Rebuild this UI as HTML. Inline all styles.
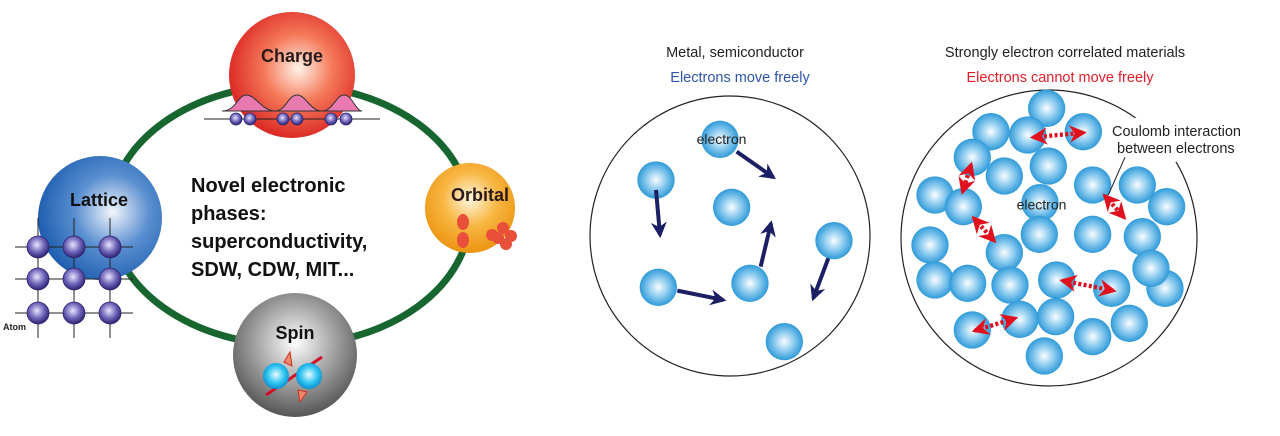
<!DOCTYPE html>
<html><head><meta charset="utf-8"><style>
html,body{margin:0;padding:0;background:#fff;width:1280px;height:436px;overflow:hidden}
svg{display:block}
</style></head><body>
<svg width="1280" height="436" viewBox="0 0 1280 436" xmlns="http://www.w3.org/2000/svg" font-family="Liberation Sans, sans-serif">
<defs>
<radialGradient id="red" cx="0.55" cy="0.45" r="0.6"><stop offset="0" stop-color="#fff4e8"/><stop offset="0.45" stop-color="#f5795a"/><stop offset="1" stop-color="#d81e1e"/></radialGradient>
<radialGradient id="blue" cx="0.6" cy="0.45" r="0.6"><stop offset="0" stop-color="#f2f6fb"/><stop offset="0.5" stop-color="#5a8fd0"/><stop offset="1" stop-color="#1f5fb0"/></radialGradient>
<radialGradient id="orange" cx="0.5" cy="0.4" r="0.6"><stop offset="0" stop-color="#fff7e0"/><stop offset="0.5" stop-color="#f8b743"/><stop offset="1" stop-color="#ec9410"/></radialGradient>
<radialGradient id="gray" cx="0.5" cy="0.4" r="0.6"><stop offset="0" stop-color="#ffffff"/><stop offset="0.5" stop-color="#a8a8a8"/><stop offset="1" stop-color="#555"/></radialGradient>
<radialGradient id="el" cx="0.5" cy="0.5" r="0.5"><stop offset="0" stop-color="#fafdff"/><stop offset="0.55" stop-color="#86c8ee"/><stop offset="1" stop-color="#2f9ad8"/></radialGradient>
<radialGradient id="atom" cx="0.45" cy="0.4" r="0.6"><stop offset="0" stop-color="#e8e4ff"/><stop offset="0.6" stop-color="#6a5fb5"/><stop offset="1" stop-color="#2e2570"/></radialGradient>
<radialGradient id="cyan" cx="0.5" cy="0.45" r="0.55"><stop offset="0" stop-color="#e8fbff"/><stop offset="0.6" stop-color="#30c4f0"/><stop offset="1" stop-color="#0a8fd0"/></radialGradient>
<marker id="nav" viewBox="0 0 10 10" refX="8" refY="5" markerWidth="4" markerHeight="4" orient="auto"><path d="M0,0 L10,5 L0,10 L3,5z" fill="#1b1f63"/></marker>
<marker id="rd" viewBox="0 0 10 10" refX="8" refY="5" markerWidth="4" markerHeight="4" orient="auto-start-reverse"><path d="M0,0 L10,5 L0,10 L3,5z" fill="#e0101e"/></marker>
</defs>

<!-- left diagram -->
<ellipse cx="290" cy="215" rx="180" ry="130" fill="none" stroke="#17652f" stroke-width="7"/>

<circle cx="292" cy="75" r="63" fill="url(#red)"/>
<text x="292" y="62" font-size="18" font-weight="bold" text-anchor="middle" fill="#2a1a1a">Charge</text>
<path d="M222,111 C236,111 238,95 246,95 C256,95 262,111 275,111 C286,111 288,95 297,95 C306,95 310,111 322,111 C333,111 336,95 344,95 C352,95 356,111 362,111 Z" fill="#e87ab0" stroke="#333" stroke-width="1"/>
<line x1="204" y1="119" x2="380" y2="119" stroke="#222" stroke-width="1"/>
<g fill="url(#atom)" stroke="#2e2570" stroke-width="0.8"><circle cx="236" cy="119" r="6"/><circle cx="250" cy="119" r="6"/><circle cx="283" cy="119" r="6"/><circle cx="297" cy="119" r="6"/><circle cx="331" cy="119" r="6"/><circle cx="346" cy="119" r="6"/></g>

<circle cx="470" cy="208" r="45" fill="url(#orange)"/>
<text x="480" y="201" font-size="18" font-weight="bold" text-anchor="middle" fill="#2a1a1a">Orbital</text>
<g fill="#e8503a"><ellipse cx="463" cy="222" rx="6" ry="8"/><ellipse cx="463" cy="240" rx="6" ry="8"/><circle cx="492" cy="235" r="6"/><circle cx="503" cy="228" r="6"/><circle cx="511" cy="236" r="6"/><circle cx="506" cy="244" r="6"/><circle cx="498" cy="238" r="6"/></g>

<circle cx="100" cy="218" r="62" fill="url(#blue)"/>
<text x="99" y="206" font-size="18" font-weight="bold" text-anchor="middle" fill="#111">Lattice</text>
<g stroke="#222" stroke-width="1">
<line x1="15" y1="247" x2="133" y2="247"/><line x1="15" y1="279" x2="133" y2="279"/><line x1="15" y1="313" x2="133" y2="313"/>
<line x1="38" y1="218" x2="38" y2="338"/><line x1="74" y1="218" x2="74" y2="338"/><line x1="110" y1="218" x2="110" y2="338"/></g>
<g fill="url(#atom)" stroke="#2e2570" stroke-width="0.8">
<circle cx="38" cy="247" r="11"/><circle cx="74" cy="247" r="11"/><circle cx="110" cy="247" r="11"/>
<circle cx="38" cy="279" r="11"/><circle cx="74" cy="279" r="11"/><circle cx="110" cy="279" r="11"/>
<circle cx="38" cy="313" r="11"/><circle cx="74" cy="313" r="11"/><circle cx="110" cy="313" r="11"/></g>
<text x="3" y="330" font-size="9" font-weight="bold" fill="#222">Atom</text>

<circle cx="295" cy="355" r="62" fill="url(#gray)"/>
<text x="295" y="339" font-size="18" font-weight="bold" text-anchor="middle" fill="#111">Spin</text>
<line x1="266" y1="395" x2="322" y2="357" stroke="#d0102a" stroke-width="3"/>
<circle cx="276" cy="376" r="13" fill="url(#cyan)"/>
<circle cx="309" cy="376" r="13" fill="url(#cyan)"/>
<path d="M284,362 L290,352 L292,366z M298,390 L300,402 L307,392z" fill="#f28a6a" stroke="#d03020" stroke-width="1"/>

<g font-size="20" font-weight="bold" fill="#111">
<text x="191" y="192">Novel electronic</text>
<text x="191" y="220">phases:</text>
<text x="191" y="248">superconductivity,</text>
<text x="191" y="276">SDW, CDW, MIT...</text></g>

<!-- middle -->
<text x="735" y="57" font-size="14.5" text-anchor="middle" fill="#222">Metal, semiconductor</text>
<text x="740" y="82" font-size="14.5" text-anchor="middle" fill="#2e55a8">Electrons move freely</text>
<circle cx="730" cy="236" r="140" fill="none" stroke="#222" stroke-width="1.2"/>
<g transform="translate(590,40) scale(0.3333)">
<g fill="url(#el)"><circle cx="390" cy="298" r="56"/><circle cx="198" cy="420" r="56"/><circle cx="425" cy="502" r="56"/><circle cx="732" cy="602" r="56"/><circle cx="205" cy="742" r="56"/><circle cx="480" cy="730" r="56"/><circle cx="583" cy="905" r="56"/></g>
<g stroke="#1b1f63" stroke-width="12" marker-end="url(#nav)">
<line x1="440" y1="335" x2="550" y2="412"/><line x1="198" y1="450" x2="210" y2="585"/><line x1="512" y1="680" x2="543" y2="550"/><line x1="262" y1="752" x2="400" y2="780"/><line x1="715" y1="655" x2="670" y2="775"/></g>
<text x="320" y="312" font-size="42" fill="#222">electron</text>
</g>

<!-- right -->
<text x="1065" y="57" font-size="14.5" text-anchor="middle" fill="#222">Strongly electron correlated materials</text>
<text x="1060" y="82" font-size="14.5" text-anchor="middle" fill="#e01e2a">Electrons cannot move freely</text>
<circle cx="1049" cy="238" r="148" fill="none" stroke="#222" stroke-width="1.2"/>
<rect x="1108" y="118" width="95" height="44" fill="#fff"/>
<g transform="translate(900,80) scale(0.3333)">
<g fill="url(#el)">
<circle cx="440" cy="85" r="56"/><circle cx="273" cy="155" r="56"/><circle cx="383" cy="165" r="56"/><circle cx="550" cy="155" r="56"/><circle cx="217" cy="232" r="56"/><circle cx="313" cy="288" r="56"/><circle cx="445" cy="258" r="56"/><circle cx="105" cy="345" r="56"/><circle cx="190" cy="380" r="56"/><circle cx="420" cy="368" r="56"/><circle cx="578" cy="315" r="56"/><circle cx="712" cy="315" r="56"/><circle cx="800" cy="380" r="56"/><circle cx="418" cy="463" r="56"/><circle cx="578" cy="463" r="56"/><circle cx="727" cy="470" r="56"/><circle cx="90" cy="495" r="56"/><circle cx="313" cy="518" r="56"/><circle cx="105" cy="600" r="56"/><circle cx="203" cy="610" r="56"/><circle cx="330" cy="615" r="56"/><circle cx="470" cy="600" r="56"/><circle cx="635" cy="625" r="56"/><circle cx="795" cy="625" r="56"/><circle cx="753" cy="565" r="56"/><circle cx="360" cy="718" r="56"/><circle cx="467" cy="710" r="56"/><circle cx="217" cy="750" r="56"/><circle cx="578" cy="770" r="56"/><circle cx="688" cy="730" r="56"/><circle cx="433" cy="828" r="56"/></g>
<g stroke="#e0101e" stroke-width="13" stroke-dasharray="9,7" marker-start="url(#rd)" marker-end="url(#rd)">
<line x1="400" y1="172" x2="550" y2="158"/><line x1="213" y1="255" x2="188" y2="335"/><line x1="222" y1="415" x2="282" y2="482"/><line x1="615" y1="348" x2="672" y2="412"/><line x1="488" y1="602" x2="640" y2="632"/><line x1="225" y1="752" x2="345" y2="715"/></g>
<line x1="675" y1="232" x2="625" y2="345" stroke="#222" stroke-width="3"/>
<text x="350" y="388" font-size="42" fill="#222">electron</text>
</g>
<text x="1112" y="136" font-size="14.5" fill="#222">Coulomb interaction</text>
<text x="1117" y="153" font-size="14.5" fill="#222">between electrons</text>
</svg>
</body></html>
